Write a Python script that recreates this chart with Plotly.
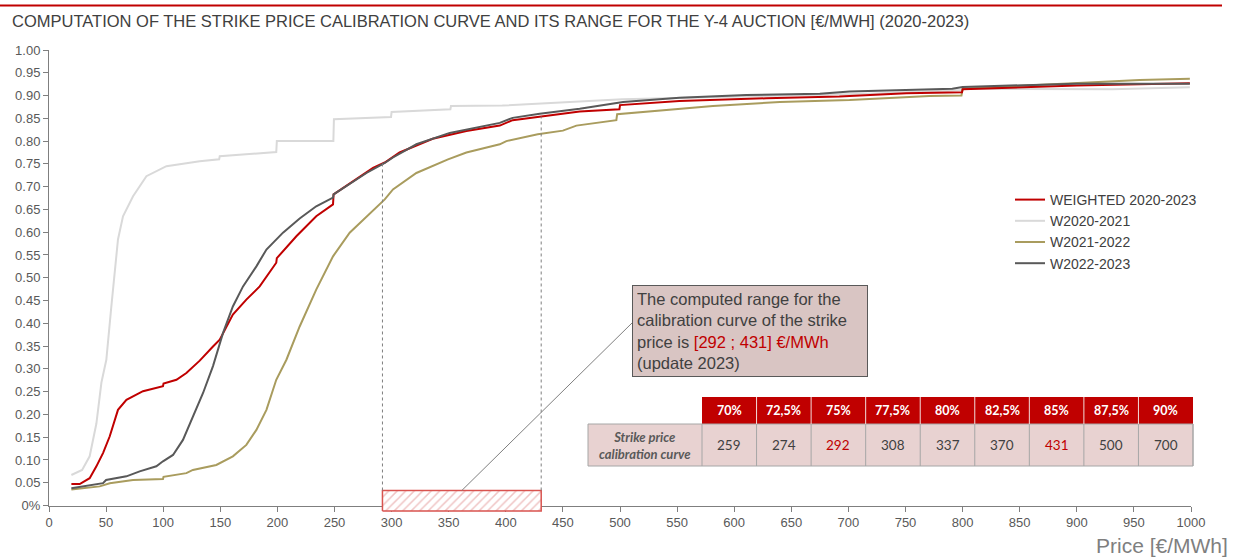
import numpy as np
import plotly.graph_objects as go

# ---------------- data ----------------
weighted_x = [19.6, 26.9, 35.6, 41.5, 47.3, 53.2, 60.4, 67.8, 82.3, 99.8, 100.3, 111.6, 120.3, 132, 143.6,
              149.5, 161, 172.8, 184.5, 199, 199.5, 216.6, 234, 248.7, 249.2, 266.2, 283.7, 294, 307, 336,
              365.5, 394.7, 406, 464.7, 499.5, 500, 552, 628, 692, 750.8, 799.5, 800, 850, 900, 999]
weighted_y = [0.047, 0.047, 0.060, 0.086, 0.115, 0.152, 0.210, 0.232, 0.251, 0.262, 0.268, 0.276, 0.291, 0.318, 0.349,
              0.364, 0.419, 0.452, 0.481, 0.533, 0.543, 0.591, 0.635, 0.661, 0.683, 0.712, 0.741, 0.753, 0.775, 0.805,
              0.822, 0.834, 0.846, 0.865, 0.870, 0.879, 0.888, 0.894, 0.898, 0.905, 0.907, 0.914, 0.918, 0.922, 0.927]

w2021_x = [19.6, 29, 35.6, 41.5, 45.9, 50.2, 54.6, 57.5, 60.4, 64.8, 73.6, 85.3, 97, 102.8, 132, 149, 149.5,
           199, 199.5, 249, 249.5, 299.5, 300, 351.5, 352, 397, 502, 718.6, 800, 801, 931, 999]
w2021_y = [0.067, 0.078, 0.108, 0.180, 0.270, 0.320, 0.437, 0.510, 0.584, 0.635, 0.679, 0.723, 0.738, 0.745, 0.756,
           0.760, 0.767, 0.776, 0.800, 0.800, 0.848, 0.853, 0.864, 0.870, 0.877, 0.878, 0.892, 0.904, 0.912, 0.915,
           0.914, 0.918]

w2122_x = [19.6, 44.4, 53.2, 73.6, 99.8, 100.3, 120.3, 126, 146.5, 161, 172.8, 181.6, 190.4, 199, 207.9, 219.5,
           234, 248.7, 263.3, 278, 294, 301.2, 321.7, 349.4, 365.5, 394.7, 400.5, 428, 450, 461.8, 496.8, 497.5,
           581.4, 640, 701, 771, 799, 800, 900, 955, 999]
w2122_y = [0.035, 0.042, 0.049, 0.056, 0.058, 0.063, 0.071, 0.078, 0.089, 0.108, 0.133, 0.166, 0.210, 0.276, 0.320,
           0.393, 0.474, 0.547, 0.599, 0.635, 0.672, 0.694, 0.730, 0.760, 0.775, 0.793, 0.800, 0.815, 0.823, 0.834,
           0.846, 0.859, 0.877, 0.886, 0.890, 0.899, 0.900, 0.915, 0.928, 0.934, 0.937]

w2223_x = [19.6, 29, 47.3, 50, 67.8, 79.4, 94, 99.8, 108.6, 117.3, 126, 134.9, 143.6, 152.4, 161, 169.9, 181.6,
           190.4, 204.9, 219.5, 234, 248.7, 249.2, 278, 294, 301.2, 321.7, 350.9, 394.7, 406, 429.7, 464.7, 502.7,
           552, 610.7, 675, 701, 725, 791, 800, 899.6, 999]
w2223_y = [0.038, 0.042, 0.049, 0.056, 0.064, 0.075, 0.086, 0.097, 0.111, 0.144, 0.196, 0.247, 0.306, 0.379, 0.437,
           0.481, 0.525, 0.562, 0.599, 0.630, 0.657, 0.676, 0.683, 0.730, 0.752, 0.764, 0.793, 0.818, 0.840, 0.851,
           0.860, 0.871, 0.886, 0.895, 0.901, 0.904, 0.909, 0.911, 0.915, 0.919, 0.926, 0.926]

series_names = ["WEIGHTED 2020-2023", "W2020-2021", "W2021-2022", "W2022-2023"]

pct_labels = ["70%", "72,5%", "75%", "77,5%", "80%", "82,5%", "85%", "87,5%", "90%"]
strike_prices = [259, 274, 292, 308, 337, 370, 431, 500, 700]
range_labels = ["75%", "85%"]

x_tick_vals = list(range(0, 1001, 50))
y_tick_vals = [round(0.05 * i, 2) for i in range(21)]
y_tick_text = ["0%"] + [f"{v:.2f}" for v in y_tick_vals[1:]]

title_text = "COMPUTATION OF THE STRIKE PRICE CALIBRATION CURVE AND ITS RANGE FOR THE Y-4 AUCTION [€/MWH] (2020-2023)"
x_title = "Price [€/MWh]"

# ---------------- layout helpers ----------------
W, H = 1239, 557
ML, MR, MT, MB = 49, 48, 50, 45
PW = W - ML - MR
PH = H - MT - MB
AXIS_BOTTOM_PY = 505.5
y_dom0 = (H - MB - AXIS_BOTTOM_PY) / PH
px_per_unit = AXIS_BOTTOM_PY - MT
y2_min = -(H - MB - AXIS_BOTTOM_PY) / px_per_unit


def fx(px):
    return (px - ML) / PW


def fy(py):
    return (H - MB - py) / PH


RED = "#C00000"
FONT = "Liberation Sans"
TFONT = "Lato"

range_low = strike_prices[pct_labels.index(range_labels[0])]
range_high = strike_prices[pct_labels.index(range_labels[1])]

fig = go.Figure()

line_specs = [
    (w2021_x, w2021_y, series_names[1], "#D9D9D9", 2),
    (w2122_x, w2122_y, series_names[2], "#A99C5E", 3),
    (weighted_x, weighted_y, series_names[0], RED, 1),
    (w2223_x, w2223_y, series_names[3], "#595959", 4),
]
for xs, ys, name, color, rank in line_specs:
    fig.add_trace(go.Scatter(x=xs, y=ys, name=name, mode="lines", legendrank=rank,
                             line=dict(color=color, width=2), hoverinfo="skip"))

# hatched range box (on an auxiliary y axis so it can extend slightly below the x axis)
rect_lo, rect_hi = -0.012, 0.033
fig.add_trace(go.Scatter(
    x=[range_low, range_high, range_high, range_low, range_low],
    y=[rect_lo, rect_lo, rect_hi, rect_hi, rect_lo],
    xaxis="x", yaxis="y2", mode="lines", fill="toself", showlegend=False, hoverinfo="skip",
    line=dict(color="#D9534F", width=1.5),
    fillcolor="white",
    fillpattern=dict(shape="/", fgcolor="#E08A8A", bgcolor="white", size=6, solidity=0.25),
))

shapes = []
# dotted verticals up to the weighted curve
for b in (range_low, range_high):
    top = float(np.interp(b, weighted_x, weighted_y))
    shapes.append(dict(type="line", xref="x", yref="y", x0=b, x1=b, y0=rect_hi, y1=top,
                       line=dict(color="#7F7F7F", width=1, dash="dot")))

# callout line from range box to the text box
box_left_px = 632
shapes.append(dict(type="line", xref="x", yref="paper",
                   x0=(range_low + range_high) / 2, y0=fy(AXIS_BOTTOM_PY - rect_hi * px_per_unit),
                   x1=(box_left_px - ML) / PW * 1000, y1=fy(323),
                   line=dict(color="#7F7F7F", width=1)))

# top red rule
shapes.append(dict(type="line", xref="paper", yref="paper", x0=fx(0), x1=fx(1222), y0=fy(5.5), y1=fy(5.5),
                   line=dict(color=RED, width=2)))

# ---------------- table ----------------
T_LABEL_X0, T_X0, T_X1 = 588, 702, 1193
T_HY0, T_HY1, T_DY1 = 397, 424, 466
ncol = len(pct_labels)
cw = (T_X1 - T_X0) / ncol
annotations = []

shapes.append(dict(type="rect", xref="paper", yref="paper", x0=fx(T_X0), x1=fx(T_X1), y0=fy(T_HY1), y1=fy(T_HY0),
                   fillcolor=RED, line=dict(width=0), layer="above"))
shapes.append(dict(type="rect", xref="paper", yref="paper", x0=fx(T_LABEL_X0), x1=fx(T_X1), y0=fy(T_DY1), y1=fy(T_HY1),
                   fillcolor="#E8D2D1", line=dict(color="#A6A6A6", width=1), layer="above"))
for i in range(ncol + 1):
    xp = T_X0 + i * cw
    shapes.append(dict(type="line", xref="paper", yref="paper", x0=fx(xp), x1=fx(xp), y0=fy(T_DY1), y1=fy(T_HY1),
                       line=dict(color="#A6A6A6", width=1), layer="above"))
    if 0 < i < ncol:
        shapes.append(dict(type="line", xref="paper", yref="paper", x0=fx(xp), x1=fx(xp), y0=fy(T_HY1), y1=fy(T_HY0),
                           line=dict(color="#F2DCDB", width=1), layer="above"))

for i, (lab, val) in enumerate(zip(pct_labels, strike_prices)):
    cx = T_X0 + (i + 0.5) * cw
    annotations.append(dict(xref="paper", yref="paper", x=fx(cx), y=fy((T_HY0 + T_HY1) / 2),
                            text=f"<b>{lab}</b>", showarrow=False, xanchor="center", yanchor="middle",
                            font=dict(family=TFONT, size=12.5, color="white")))
    col = RED if lab in range_labels else "#404040"
    annotations.append(dict(xref="paper", yref="paper", x=fx(cx), y=fy((T_HY1 + T_DY1) / 2),
                            text=str(val), showarrow=False, xanchor="center", yanchor="middle",
                            font=dict(family=TFONT, size=13.5, color=col)))
annotations.append(dict(xref="paper", yref="paper", x=fx((T_LABEL_X0 + T_X0) / 2), y=fy((T_HY1 + T_DY1) / 2),
                        text="<b><i>Strike price<br>calibration curve</i></b>", showarrow=False,
                        xanchor="center", yanchor="middle", font=dict(family=TFONT, size=13, color="#595959")))

# ---------------- text annotations ----------------
annotations.append(dict(xref="paper", yref="paper", x=fx(10), y=fy(21), xanchor="left", yanchor="middle",
                        text=title_text, showarrow=False, font=dict(family=FONT, size=16.5, color="#404040")))
annotations.append(dict(xref="paper", yref="paper", x=fx(1230), y=fy(545), xanchor="right", yanchor="middle",
                        text=x_title, showarrow=False, font=dict(family=FONT, size=21, color="#7F7F7F")))
box_text = ("The computed range for the<br>calibration curve of the strike<br>price is "
            f"<span style='color:{RED}'>[{range_low} ; {range_high}] €/MWh</span><br>(update 2023)")
annotations.append(dict(xref="paper", yref="paper", x=fx(box_left_px), y=fy(331), xanchor="left", yanchor="middle",
                        text=box_text, showarrow=False, align="left", width=226, borderpad=4,
                        bgcolor="#D9C5C3", bordercolor="#595959", borderwidth=1,
                        font=dict(family=FONT, size=16.5, color="#404040")))

axis_common = dict(showgrid=False, zeroline=False, showline=True, linecolor="#7F7F7F", linewidth=1,
                   ticks="outside", ticklen=5, tickcolor="#7F7F7F",
                   tickfont=dict(family=FONT, size=13, color="#595959"))

fig.update_layout(
    width=W, height=H,
    margin=dict(l=ML, r=MR, t=MT, b=MB),
    paper_bgcolor="white", plot_bgcolor="rgba(0,0,0,0)",
    xaxis=dict(range=[0, 1000], tickvals=x_tick_vals, anchor="y", **axis_common),
    yaxis=dict(range=[0, 1], domain=[y_dom0, 1], tickvals=y_tick_vals, ticktext=y_tick_text, anchor="x",
               **axis_common),
    yaxis2=dict(range=[y2_min, 1], domain=[0, 1], anchor="x", visible=False),
    legend=dict(x=fx(1010), y=fy(184), xanchor="left", yanchor="top", bgcolor="rgba(0,0,0,0)",
                font=dict(family=FONT, size=14, color="#404040"), traceorder="normal"),
    shapes=shapes,
    annotations=annotations,
    showlegend=True,
)

fig.write_html("out.html", config={"displayModeBar": False},
               post_script="document.body.style.margin='0';document.body.style.padding='0';")
